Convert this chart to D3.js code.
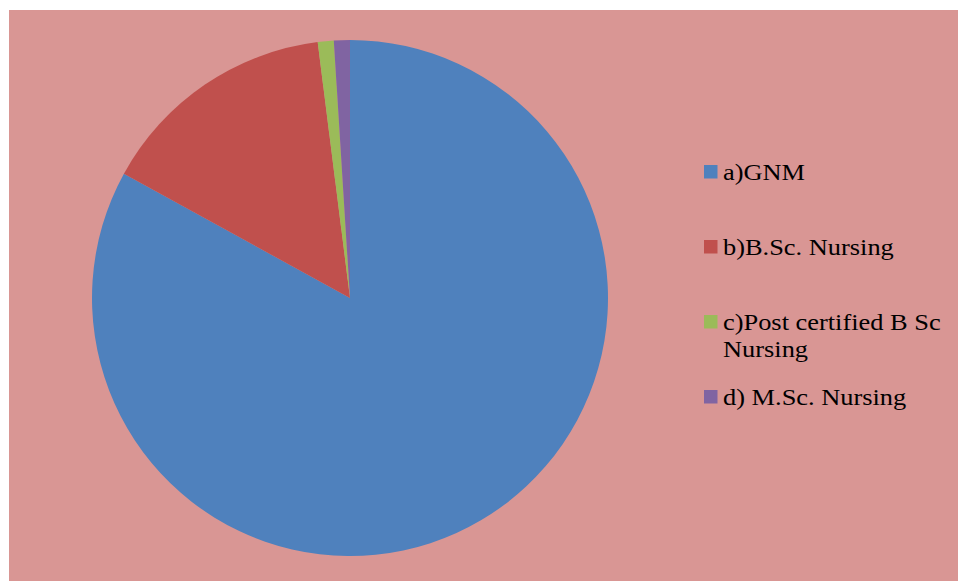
<!DOCTYPE html>
<html>
<head>
<meta charset="utf-8">
<script src="https://cdn.jsdelivr.net/npm/d3@7"></script>
<style>
  html, body { margin: 0; padding: 0; background: #ffffff; }
  svg { display: block; }
</style>
</head>
<body>
<svg id="chart" width="958" height="581"></svg>
<script>
// Qualification of nursing staff (percent)
const categories = ["a)GNM", "b)B.Sc. Nursing", "c)Post certified B Sc Nursing", "d) M.Sc. Nursing"];
const legendLines = [["a)GNM"], ["b)B.Sc. Nursing"], ["c)Post certified B Sc", "Nursing"], ["d) M.Sc. Nursing"]];
const values = [83, 15, 1, 1];
const colors = ["#4F81BD", "#C0504D", "#9BBB59", "#8064A2"];

const W = 958, H = 581;
const svg = d3.select("#chart");

// chart area background
svg.append("rect")
  .attr("x", 9).attr("y", 10)
  .attr("width", W - 9).attr("height", H - 10)
  .attr("fill", "#D99694");

const cx = 350, cy = 298, radius = 258;

const pie = d3.pie().sort(null).value(d => d.value);
const arc = d3.arc().innerRadius(0).outerRadius(radius);

const data = categories.map((c, i) => ({ name: c, value: values[i] }));

const color = d3.scaleOrdinal().domain(categories).range(colors);

svg.append("g")
  .attr("transform", `translate(${cx},${cy})`)
  .selectAll("path")
  .data(pie(data))
  .join("path")
  .attr("d", arc)
  .attr("fill", d => color(d.data.name));

// legend
const legendY = d3.scaleLinear().domain([0, 1]).range([165, 240]);
const legend = svg.append("g");
categories.forEach((c, i) => {
  const top = legendY(i);
  legend.append("rect")
    .attr("x", 704).attr("y", top)
    .attr("width", 13.5).attr("height", 13.5)
    .attr("fill", color(c));
  const t = legend.append("text")
    .attr("transform", `translate(723,${top + 15}) scale(1.1,1)`)
    .attr("font-family", "'Liberation Serif', 'Times New Roman', serif")
    .attr("font-size", 24)
    .attr("fill", "#000");
  legendLines[i].forEach((line, k) => {
    t.append("tspan").attr("x", 0).attr("y", k * 27).text(line);
  });
});
</script>
</body>
</html>
